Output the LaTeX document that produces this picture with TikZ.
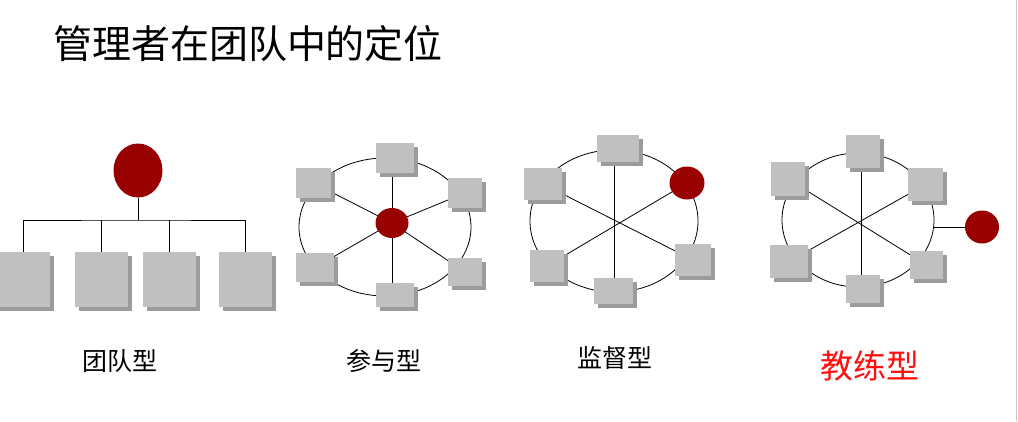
\documentclass[tikz,border=0pt]{standalone}
\usepackage{fontspec}
\newfontfamily\cjk{Noto Sans CJK SC}
\usetikzlibrary{shapes.geometric,backgrounds}
\definecolor{boxgray}{HTML}{C0C0C0}
\definecolor{shadowgray}{HTML}{9C9C9C}
\definecolor{leadred}{HTML}{990000}
\definecolor{labred}{HTML}{FF1010}
\tikzset{
  box/.style={rectangle, fill=boxgray, draw=none, inner sep=0pt,
    preaction={fill=shadowgray, transform canvas={xshift=4pt,yshift=-4pt}}},
  lead/.style={ellipse, fill=leadred, draw=none, inner sep=0pt},
  ring/.style={ellipse, draw=black, line width=0.8pt, inner sep=0pt},
  conn/.style={draw=black, line width=0.8pt},
  label/.style={font=\cjk\fontsize{25}{27}\selectfont, text=black, inner sep=0pt},
}
\begin{document}
\begin{tikzpicture}[x=1pt,y=-1pt]
\useasboundingbox (0,0) rectangle (1018,421);
\clip (0,0) rectangle (1018,421);
\begin{scope}[on background layer]
  \fill[white] (0,0) rectangle (1018,421);
\end{scope}
\draw[gray!45, line width=0.8pt] (1016.3,0) -- (1016.3,421);

% title
\node[font=\cjk\fontsize{39}{42}\selectfont, inner sep=0pt] (title) at (248,44) {管理者在团队中的定位};

% ---------- 团队型 ----------
\node[lead, minimum width=49pt, minimum height=54pt] (r1) at (138,170.5) {};
\foreach \n/\x in {a1/23, a2/101.5, a3/169.5, a4/245.5}
  \node[box, minimum width=53pt, minimum height=55pt] (\n) at (\x,279.5) {};
\coordinate (j1) at (138,220);
\begin{scope}[on background layer]
  \draw[conn] (r1.south) -- (j1);
  \draw[conn] (a1.north) |- (j1) -| (a4.north);
  \draw[conn] (a2.north) -- (a2.north |- j1);
  \draw[conn] (a3.north) -- (a3.north |- j1);
\end{scope}
\node[label] (l1) at (120,361) {团队型};

% ---------- 参与型 ----------
\node[ring, minimum width=172pt, minimum height=138pt] (e2) at (385,227) {};
\node[box, minimum width=38pt, minimum height=30pt] (b2a) at (395,158) {};
\node[box, minimum width=35pt, minimum height=30pt] (b2b) at (313.5,183) {};
\node[box, minimum width=34pt, minimum height=30pt] (b2c) at (465,193) {};
\node[box, minimum width=38pt, minimum height=29pt] (b2d) at (315,267.5) {};
\node[box, minimum width=34pt, minimum height=28pt] (b2e) at (465,272) {};
\node[box, minimum width=38pt, minimum height=24pt] (b2f) at (395,295) {};
\node[lead, minimum width=33pt, minimum height=30pt] (c2) at (392,223) {};
\begin{scope}[on background layer]
  \draw[conn] (c2.center) -- (b2b.center);
  \draw[conn] (c2.center) -- (b2c.center);
  \draw[conn] (c2.center) -- (b2d.center);
  \draw[conn] (c2.center) -- (b2e.center);
  \draw[conn] (c2.center |- b2a.center) -- (c2.center |- b2f.center);
\end{scope}
\node[label] (l2) at (384,361) {参与型};

% ---------- 监督型 ----------
\node[ring, minimum width=168pt, minimum height=142pt] (e3) at (614,221) {};
\coordinate (c3) at (614,220);
\node[box, minimum width=42pt, minimum height=27pt] (b3a) at (618,148.5) {};
\node[box, minimum width=38pt, minimum height=32pt] (b3b) at (543,184) {};
\node[box, minimum width=34pt, minimum height=32pt] (b3c) at (547,266) {};
\node[box, minimum width=39pt, minimum height=26pt] (b3d) at (613.5,291) {};
\node[box, minimum width=36pt, minimum height=32pt] (b3e) at (693,260) {};
\node[lead, minimum width=35pt, minimum height=33pt] (r3) at (687,183) {};
\begin{scope}[on background layer]
  \draw[conn] (b3b.center) -- (b3e.center);
  \draw[conn] (r3.center) -- (b3c.center);
  \draw[conn] (c3 |- b3a.center) -- (c3 |- b3d.center);
\end{scope}
\node[label] (l3) at (615,358) {监督型};

% ---------- 教练型 ----------
\node[ring, minimum width=152pt, minimum height=134pt] (e4) at (858,220) {};
\coordinate (c4) at (861,224);
\node[box, minimum width=34pt, minimum height=33pt] (b4a) at (863,151.5) {};
\node[box, minimum width=34pt, minimum height=34pt] (b4b) at (788,179) {};
\node[box, minimum width=35pt, minimum height=33pt] (b4c) at (925.5,184.5) {};
\node[box, minimum width=38pt, minimum height=33pt] (b4d) at (789,261.5) {};
\node[box, minimum width=33pt, minimum height=28pt] (b4e) at (926.5,265) {};
\node[box, minimum width=34pt, minimum height=28pt] (b4f) at (863,289) {};
\node[lead, minimum width=34pt, minimum height=33pt] (r4) at (982,227) {};
\begin{scope}[on background layer]
  \draw[conn] (b4b.center) -- (b4e.center);
  \draw[conn] (b4c.center) -- (b4d.center);
  \draw[conn] (c4 |- b4a.center) -- (c4 |- b4f.center);
  \draw[conn] (r4.west) -- (r4.west -| e4.east);
\end{scope}
\node[label, text=labred, font=\cjk\fontsize{33}{35}\selectfont] (l4) at (870,366) {教练型};
\end{tikzpicture}
\end{document}
